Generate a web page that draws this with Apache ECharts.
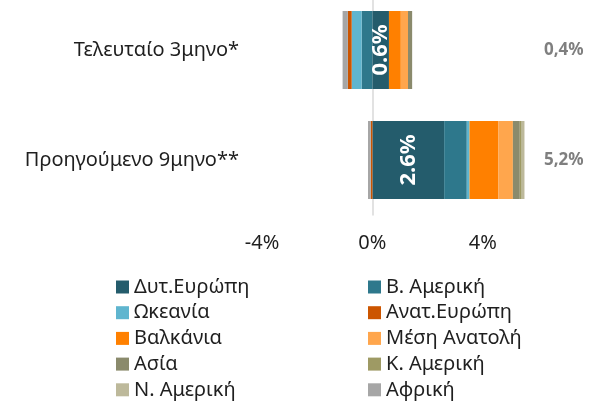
<!DOCTYPE html>
<html>
<head>
<meta charset="utf-8">
<script src="https://cdn.jsdelivr.net/npm/echarts@6/dist/echarts.min.js"></script>
<style>
html,body{margin:0;padding:0;background:#fff;}
#chartmain{width:590px;height:401px;}
</style>
</head>
<body>
<div id="chartmain"></div>
<script>
// κατηγορίες (πάνω -> κάτω)
var categories = ['Τελευταίο 3μηνο*', 'Προηγούμενο 9μηνο**'];
// σύνολα δεξιά
var totalLabels = ['0,4%', '5,2%'];
// τιμές ανά περιοχή (%)
var dytEvropi   = [0.6, 2.6];
var vAmeriki    = [-0.39, 0.82];
var okeania     = [-0.36, 0.1];
var anatEvropi  = [-0.14, -0.06];
var valkania    = [0.43, 1.04];
var mesiAnatoli = [0.26, 0.53];
var asia        = [0.15, 0.25];
var kAmeriki    = [0, 0.07];
var nAmeriki    = [0, 0.1];
var afriki      = [-0.19, -0.1];

var seriesDefs = [
	{name:'Δυτ.Ευρώπη', data:dytEvropi, color:'#245c6c'},
	{name:'Β. Αμερική', data:vAmeriki, color:'#2e788c'},
	{name:'Ωκεανία', data:okeania, color:'#5fb5cf'},
	{name:'Ανατ.Ευρώπη', data:anatEvropi, color:'#cc5500'},
	{name:'Βαλκάνια', data:valkania, color:'#ff8000'},
	{name:'Μέση Ανατολή', data:mesiAnatoli, color:'#ffa64d'},
	{name:'Ασία', data:asia, color:'#8a8a6c'},
	{name:'Κ. Αμερική', data:kAmeriki, color:'#9e9a64'},
	{name:'Ν. Αμερική', data:nAmeriki, color:'#bdb99b'},
	{name:'Αφρική', data:afriki, color:'#a6a6a6'}
];

var font = 'Noto Sans';
var series = [];
for(var i=0;i<seriesDefs.length;i++){
	var s = seriesDefs[i];
	series.push({
		name:s.name,
		type:'bar',
		stack:'total',
		barWidth:78,
		itemStyle:{color:s.color},
		label:{
			show:i===0,
			position:'inside',
			rotate:90,
			color:'#fff',
			fontFamily:font,
			fontWeight:'bold',
			fontSize:22,
			formatter:function(p){ return p.value.toFixed(1)+'%'; }
		},
		data:s.data
	});
}
// δύο στήλες στο υπόμνημα
var leftNames = [], rightNames = [];
for(var i=0;i<seriesDefs.length;i++){
	if(i%2===0){ leftNames.push(seriesDefs[i].name); } else { rightNames.push(seriesDefs[i].name); }
}
var legendBase = {
	orient:'vertical',
	top:277,
	height:130,
	padding:0,
	icon:'rect',
	itemWidth:13,
	itemHeight:13,
	itemGap:5.7,
	textStyle:{fontFamily:font, fontSize:20, color:'#1f1f1f', lineHeight:20}
};

var myChart = echarts.init(document.getElementById('chartmain'));
myChart.setOption({
	animation:false,
	textStyle:{fontFamily:font},
	grid:{left:262, right:52, top:-5, height:220, containLabel:false, outerBoundsMode:'none'},
	legend:[
		Object.assign({}, legendBase, {left:116, data:leftNames}),
		Object.assign({}, legendBase, {left:368, data:rightNames})
	],
	xAxis:{
		type:'value',
		min:-4,
		max:6,
		interval:4,
		axisLine:{show:false},
		axisTick:{show:false},
		splitLine:{show:false},
		axisLabel:{
			showMaxLabel:false,
			fontFamily:font,
			fontSize:20,
			color:'#1f1f1f',
			margin:18,
			formatter:function(v){ return v+'%'; }
		}
	},
	yAxis:[{
		type:'category',
		inverse:true,
		data:categories,
		axisLine:{onZero:true, lineStyle:{color:'#d9d9d9', width:1.5}},
		axisTick:{show:false},
		axisLabel:{fontFamily:font, fontSize:20, color:'#1f1f1f', margin:23}
	},{
		type:'category',
		inverse:true,
		position:'right',
		data:totalLabels,
		axisLine:{show:false},
		axisTick:{show:false},
		axisLabel:{fontFamily:font, fontSize:17, fontWeight:'bold', color:'#7f7f7f', margin:6}
	}],
	series:series
});
</script>
</body>
</html>
